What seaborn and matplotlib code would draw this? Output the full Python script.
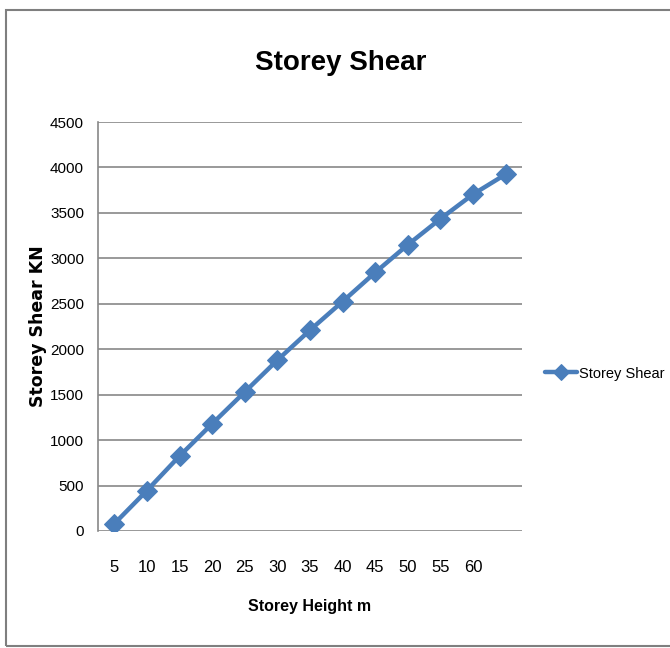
import matplotlib
matplotlib.use("Agg")
from matplotlib import pyplot as plt
from matplotlib.patches import Rectangle
import pandas as pd
import seaborn as sns

# storey heights (m) and storey shear (kN)
heights = [5, 10, 15, 20, 25, 30, 35, 40, 45, 50, 55, 60, 65]
shear = [80, 445, 825, 1180, 1530, 1880, 2210, 2525, 2845, 3150, 3435, 3705, 3925]
tick_labels = ["5", "10", "15", "20", "25", "30", "35", "40", "45", "50", "55", "60", ""]
y_ticks = [0, 500, 1000, 1500, 2000, 2500, 3000, 3500, 4000, 4500]


def main():
    sns.set_style("white")
    plt.rcParams['font.family'] = ['Liberation Sans', 'DejaVu Sans']
    plt.rcParams['text.color'] = 'black'
    plt.rcParams['axes.labelcolor'] = 'black'
    plt.rcParams['xtick.color'] = 'black'
    plt.rcParams['ytick.color'] = 'black'

    df = pd.DataFrame({'height': heights, 'shear': shear, 'series': 'Storey Shear'})

    fig = plt.figure(figsize=(6.7, 6.48), dpi=100)
    ax = fig.add_axes([98 / 670, 1 - 531 / 648, (522 - 98) / 670, (531 - 122) / 648])

    blue = '#4A7EBB'
    sns.lineplot(data=df, x='height', y='shear', hue='series', palette=[blue],
                 marker='D', markersize=10, linewidth=3.2, markeredgecolor=blue,
                 ax=ax)

    ax.set_xlim(2.5, 67.5)
    ax.set_ylim(0, 4500)
    ax.set_xticks(heights)
    ax.set_xticklabels(tick_labels)
    ax.set_yticks(y_ticks)
    ax.yaxis.grid(True, color='#888888', linewidth=1.2)
    ax.set_axisbelow(True)
    for s in ['top', 'right', 'bottom']:
        ax.spines[s].set_visible(False)
    ax.spines['left'].set_color('#888888')
    ax.spines['left'].set_linewidth(1.2)
    ax.tick_params(axis='y', length=4, color='#888888', width=1.2, labelsize=11, pad=6)
    ax.tick_params(axis='x', length=0, labelsize=12, pad=21)

    ax.set_xlabel('Storey Height m', fontsize=11.5, fontweight='bold', labelpad=17)
    ax.set_ylabel('Storey Shear KN', fontsize=12.5, fontweight='bold',
                  family=['DejaVu Sans'], labelpad=2)

    fig.text(341 / 670, 1 - 63 / 648, 'Storey Shear', fontsize=20, fontweight='bold',
             ha='center', va='center')

    handles, labels = ax.get_legend_handles_labels()
    ax.legend(handles, labels, loc='center left', bbox_to_anchor=(1.054, 0.385),
              frameon=False, fontsize=10.5, handlelength=2.2, handletextpad=0.15,
              borderpad=0, borderaxespad=0, markerscale=0.8)

    # chart area border
    fig.patches.append(Rectangle((6 / 670, 2 / 648), 700 / 670, 1 - 12 / 648,
                                 transform=fig.transFigure, fill=False,
                                 edgecolor='#7f7f7f', linewidth=1.5))

    plt.savefig('out.png', dpi=100)


if __name__ == '__main__':
    main()
